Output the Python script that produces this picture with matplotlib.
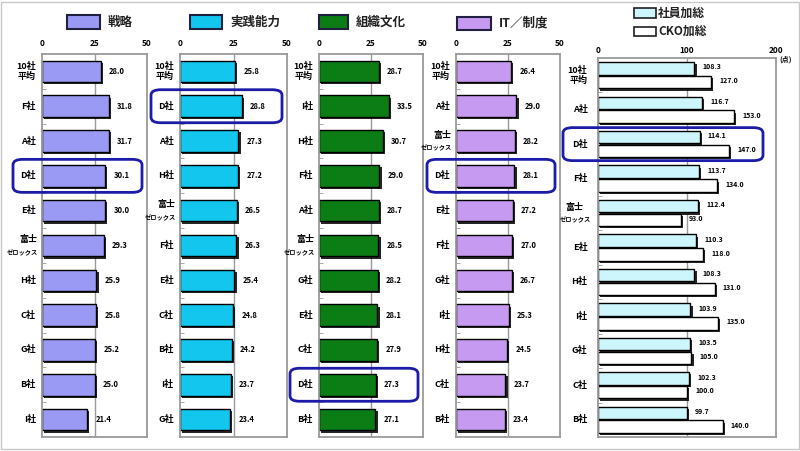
import matplotlib
matplotlib.use("Agg")
import matplotlib.pyplot as plt
from matplotlib.patches import Rectangle, FancyBboxPatch
import matplotlib.patheffects as pe

plt.rcParams['font.family'] = ['Noto Sans CJK JP', 'DejaVu Sans']

# ---------------- data ----------------
series_names = ["戦略", "実践能力", "組織文化", "IT／制度"]
series_colors = ["#9a9af5", "#12c6ee", "#0b7d14", "#c79af2"]

cats_1 = ["10社\n平均", "F社", "A社", "D社", "E社", "富士\nゼロックス", "H社", "C社", "G社", "B社", "I社"]
vals_1 = [28.0, 31.8, 31.7, 30.1, 30.0, 29.3, 25.9, 25.8, 25.2, 25.0, 21.4]

cats_2 = ["10社\n平均", "D社", "A社", "H社", "富士\nゼロックス", "F社", "E社", "C社", "B社", "I社", "G社"]
vals_2 = [25.8, 28.8, 27.3, 27.2, 26.5, 26.3, 25.4, 24.8, 24.2, 23.7, 23.4]

cats_3 = ["10社\n平均", "I社", "H社", "F社", "A社", "富士\nゼロックス", "G社", "E社", "C社", "D社", "B社"]
vals_3 = [28.7, 33.5, 30.7, 29.0, 28.7, 28.5, 28.2, 28.1, 27.9, 27.3, 27.1]

cats_4 = ["10社\n平均", "A社", "富士\nゼロックス", "D社", "E社", "F社", "G社", "I社", "H社", "C社", "B社"]
vals_4 = [26.4, 29.0, 28.2, 28.1, 27.2, 27.0, 26.7, 25.3, 24.5, 23.7, 23.4]

total_names = ["社員加総", "CKO加総"]
total_colors = ["#ccf6fb", "#ffffff"]
cats_5 = ["10社\n平均", "A社", "D社", "F社", "富士\nゼロックス", "E社", "H社", "I社", "G社", "C社", "B社"]
staff_total = [108.3, 116.7, 114.1, 113.7, 112.4, 110.3, 108.3, 103.9, 103.5, 102.3, 99.7]
cko_total = [127.0, 153.0, 147.0, 134.0, 93.0, 118.0, 131.0, 135.0, 105.0, 100.0, 140.0]

highlight = "D社"
small_ticks = [0, 25, 50]
total_ticks = [0, 100, 200]

# ---------------- layout ----------------
W, H = 800, 451
fig = plt.figure(figsize=(W / 100, H / 100), dpi=100)
fig.patch.set_facecolor("white")

def fx(px):
    return px / W

def fy(py):
    return 1 - py / H

TOP, BOT = 54, 437
TOP5 = 58
panels = [(42, 147), (180, 287), (319, 423), (456, 560)]
spine_col = "#9a9a9a"
shadow = [pe.SimplePatchShadow(offset=(1.6, -1.6), shadow_rgbFace="black", alpha=0.85), pe.Normal()]


def style_axis(ax, cats, ticks, xmax, pad=4):
    n = len(cats)
    ax.set_xlim(0, xmax)
    ax.set_ylim(n - 0.5, -0.5)
    ax.xaxis.tick_top()
    ax.set_xticks(ticks)
    ax.set_xticklabels([str(t) for t in ticks], fontsize=6, fontweight="bold")
    ax.tick_params(axis="x", length=0, pad=pad)
    ax.set_yticks(range(n))
    ax.set_yticklabels([])
    ax.set_yticks([i + 0.5 for i in range(n - 1)], minor=True)
    ax.tick_params(axis="y", which="major", length=0)
    ax.tick_params(axis="y", which="minor", direction="in", length=3, color=spine_col)
    for s in ax.spines.values():
        s.set_color(spine_col)
        s.set_linewidth(1.3)
    ax.axvline(ticks[1], color=spine_col, lw=1.0, zorder=0)
    for i, c in enumerate(cats):
        if "\n" in c:
            a, b = c.split("\n")
            if b == "平均":
                ax.text(-0.06 * xmax, i, c, ha="right", va="center", fontsize=6.5,
                        fontweight="bold", linespacing=1.1)
            else:
                ax.text(-0.13 * xmax, i - 0.17, a, ha="center", va="center", fontsize=6.5,
                        fontweight="bold")
                ax.text(-0.04 * xmax, i + 0.2, b, ha="right", va="center", fontsize=4.5,
                        fontweight="bold")
        else:
            ax.text(-0.06 * xmax, i, c, ha="right", va="center", fontsize=6.5, fontweight="bold")


all_cats = [cats_1, cats_2, cats_3, cats_4]
all_vals = [vals_1, vals_2, vals_3, vals_4]
for (x0, x1), cats, vals, col in zip(panels, all_cats, all_vals, series_colors):
    ax = fig.add_axes([fx(x0), fy(BOT), fx(x1 - x0), (BOT - TOP) / H])
    style_axis(ax, cats, small_ticks, 50)
    bars = ax.barh(range(len(vals)), vals, height=0.62, color=col, edgecolor="black",
                   linewidth=1.0, zorder=2)
    for b in bars:
        b.set_path_effects(shadow)
    for i, v in enumerate(vals):
        ax.annotate(f"{v:.1f}", (v, i), xytext=(6, 0), textcoords="offset points",
                    va="center", ha="left", fontsize=5.5, fontweight="bold")

# totals panel
x0, x1 = 598, 776
ax5 = fig.add_axes([fx(x0), fy(BOT), fx(x1 - x0), (BOT - TOP5) / H])
style_axis(ax5, cats_5, total_ticks, 200, pad=2)
n5 = len(cats_5)
ys1 = [i - 0.2 for i in range(n5)]
ys2 = [i + 0.2 for i in range(n5)]
b1 = ax5.barh(ys1, staff_total, height=0.36, color=total_colors[0], edgecolor="black",
              linewidth=1.0, zorder=2)
b2 = ax5.barh(ys2, cko_total, height=0.36, color=total_colors[1], edgecolor="black",
              linewidth=1.0, zorder=2)
for b in list(b1) + list(b2):
    b.set_path_effects(shadow)
for y, v in zip(ys1, staff_total):
    ax5.annotate(f"{v:.1f}", (v, y), xytext=(6, 1), textcoords="offset points",
                 va="center", ha="left", fontsize=5, fontweight="bold")
for y, v in zip(ys2, cko_total):
    ax5.annotate(f"{v:.1f}", (v, y), xytext=(6, 1), textcoords="offset points",
                 va="center", ha="left", fontsize=5, fontweight="bold")
fig.text(fx(786), fy(59), "(点)", ha="center", va="center", fontsize=5, fontweight="bold")

# ---------------- legends ----------------
leg_pos = [(67, 15, 33, 14), (190, 15, 32, 14), (319, 15, 29, 14), (457, 17, 34, 13)]
for (lx, ly, lw, lh), name, col in zip(leg_pos, series_names, series_colors):
    fig.patches.append(Rectangle((fx(lx), fy(ly + lh)), fx(lw), lh / H, facecolor=col,
                                 edgecolor="#202040", linewidth=1.5, transform=fig.transFigure))
    fig.text(fx(lx + lw + 8), fy(ly + lh / 2), name, ha="left", va="center", fontsize=9,
             fontweight="bold", color="#222222")

tot_pos = [(634, 8, 22, 10), (634, 27, 22, 9)]
for (lx, ly, lw, lh), name, col in zip(tot_pos, total_names, total_colors):
    fig.patches.append(Rectangle((fx(lx), fy(ly + lh)), fx(lw), lh / H, facecolor=col,
                                 edgecolor="#202020", linewidth=1.2, transform=fig.transFigure))
    fig.text(fx(lx + lw + 2), fy(ly + lh / 2), name, ha="left", va="center", fontsize=8.5,
             fontweight="bold", color="#222222")

# ---------------- highlight boxes ----------------
def box(x0, y0, x1, y1):
    fig.patches.append(FancyBboxPatch((fx(x0), fy(y1)), fx(x1 - x0), (y1 - y0) / H,
                                      boxstyle="round,pad=0,rounding_size=0.012",
                                      facecolor="none", edgecolor="#1c1ca8", linewidth=2.0,
                                      transform=fig.transFigure, zorder=10))

for (px0, px1), cats in zip(panels, all_cats):
    i = cats.index(highlight)
    slot = (BOT - TOP) / len(cats)
    cy = TOP + slot * (i + 0.5)
    box(px0 - 29, cy - 16.5, px1 - 5, cy + 16.5)
i = cats_5.index(highlight)
slot = (BOT - TOP5) / n5
cy = TOP5 + slot * (i + 0.5)
box(563, cy - 16.5, 763, cy + 16.5)

# outer frame
fig.patches.append(Rectangle((fx(1), fy(449)), fx(798), 447 / H, facecolor="none",
                             edgecolor="#c8c8c8", linewidth=1.0, transform=fig.transFigure))

fig.savefig("out.png", dpi=100, facecolor="white")
